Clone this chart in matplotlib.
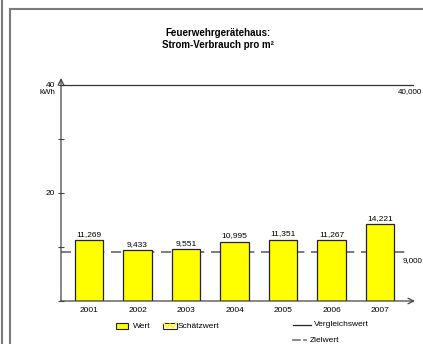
import matplotlib
matplotlib.use("Agg")
import matplotlib.pyplot as plt
from matplotlib.patches import Rectangle
from matplotlib.lines import Line2D

# data
years = ["2001", "2002", "2003", "2004", "2005", "2006", "2007"]
values = [11.269, 9.433, 9.551, 10.995, 11.351, 11.267, 14.221]
target = 9.0        # Zielwert
reference = 40.0    # Vergleichswert
yticks = [0, 10, 20, 30, 40]
yticklabels = ["", "", "20", "", "40"]

plt.rcParams['font.family'] = ['Liberation Sans', 'DejaVu Sans']

W, H = 423, 344
fig = plt.figure(figsize=(W / 100, H / 100), dpi=100)

# pixel coords -> figure fraction
def fx(px):
    return px / W

def fy(py):
    return 1 - py / H

def de(v):
    return f"{v:.3f}".replace(".", ",")

grey = "#7a7a7a"
fig.add_artist(Line2D([fx(1.5), fx(1.5)], [0, 1], color=grey, lw=1.5))
fig.add_artist(Line2D([fx(9.5), fx(9.5)], [0, fy(8.5)], color=grey, lw=1.5))
fig.add_artist(Line2D([fx(9.5), 1], [fy(8.5), fy(8.5)], color=grey, lw=1.5))

# axes: y=0 at px 301, 5.4 px per unit; x from px 61 to 414
ymax = 41.0
ax = fig.add_axes([fx(61), fy(301), fx(414) - fx(61), (ymax * 5.4) / H])
x = list(range(len(years)))
ax.set_xlim(-0.577, 6.70)
ax.set_ylim(0, ymax)

ax.bar(x, values, width=0.58, color="#ffff00", edgecolor="#222222", linewidth=0.9, zorder=3)
for xi, v in zip(x, values):
    ax.text(xi, v + 0.4, de(v), ha="center", va="bottom", fontsize=6)

ax.plot([-0.577, 6.55], [target, target], color="#666666", lw=1.2, dashes=(6, 4), zorder=2)
ax.plot([-0.577, 6.70], [reference, reference], color="#333333", lw=0.9, zorder=2)

for s in ax.spines.values():
    s.set_visible(False)

# axis lines with arrows
ax.annotate("", xy=(-0.577, ymax + 0.3), xytext=(-0.577, 0), xycoords="data",
            arrowprops=dict(arrowstyle="->", color="#444444", lw=0.9, shrinkA=0, shrinkB=0),
            annotation_clip=False)
ax.annotate("", xy=(6.72, 0), xytext=(-0.577, 0), xycoords="data",
            arrowprops=dict(arrowstyle="->", color="#444444", lw=0.9, shrinkA=0, shrinkB=0),
            annotation_clip=False)

ax.set_xticks(x)
ax.set_xticklabels(years, fontsize=6)
ax.tick_params(axis="x", length=0, pad=4)
ax.set_yticks(yticks)
ax.set_yticklabels(yticklabels, fontsize=6)
ax.tick_params(axis="y", direction="inout", length=5, width=0.8, color="#444444", pad=2)
ax.text(-0.70, ymax - 2.3, "kWh", ha="right", va="center", fontsize=5.8)
ax.patch.set_alpha(0)

# right-hand value labels of the reference/target lines
fig.text(fx(422), fy(92), de(reference), ha="right", va="center", fontsize=5.8)
fig.text(fx(422), fy(261), de(target), ha="right", va="center", fontsize=5.8)

fig.text(fx(218), fy(39), "Feuerwehrgerätehaus:\nStrom-Verbrauch pro m²", ha="center", va="center",
         fontsize=7, fontweight="bold", linespacing=1.25)

# legend
fig.add_artist(Rectangle((fx(116), fy(329)), fx(128) - fx(116), fy(323) - fy(329),
                         facecolor="#ffff00", edgecolor="#222222", lw=0.8))
fig.text(fx(133), fy(326), "Wert", ha="left", va="center", fontsize=6)
fig.add_artist(Rectangle((fx(163), fy(329)), fx(177) - fx(163), fy(323) - fy(329),
                         facecolor="white", edgecolor="#222222", lw=0.8))
fig.add_artist(Line2D([fx(164), fx(167.5), fx(170), fx(172.5), fx(176)],
                      [fy(323.5), fy(328), fy(324), fy(328), fy(323.5)], color="#ffff00", lw=1.2))
fig.text(fx(178), fy(326), "Schätzwert", ha="left", va="center", fontsize=6)
fig.add_artist(Line2D([fx(293), fx(311)], [fy(325), fy(325)], color="#222222", lw=0.9))
fig.text(fx(314), fy(325), "Vergleichswert", ha="left", va="center", fontsize=6)
fig.add_artist(Line2D([fx(293), fx(300)], [fy(340), fy(340)], color="#777777", lw=1.2))
fig.add_artist(Line2D([fx(304), fx(306)], [fy(340), fy(340)], color="#777777", lw=1.2))
fig.text(fx(310), fy(340), "Zielwert", ha="left", va="center", fontsize=6)

fig.savefig("out.png", dpi=100)
